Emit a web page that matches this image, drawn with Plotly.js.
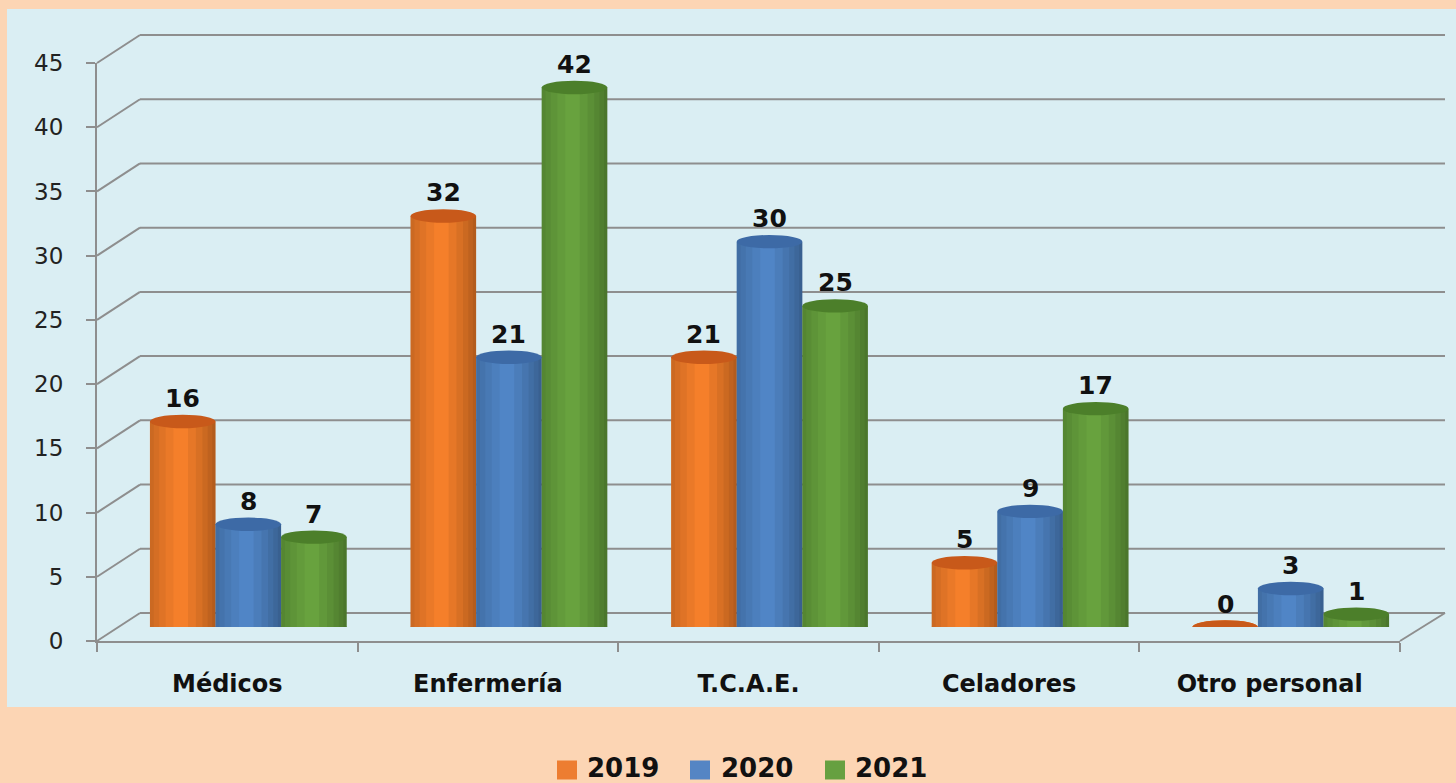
<!DOCTYPE html>
<html>
<head>
<meta charset="utf-8">
<script src="https://cdn.plot.ly/plotly-3.0.1.min.js"></script>
<style>html,body{margin:0;padding:0;background:#FCD5B4;}#chart{width:1456px;height:783px;}</style>
</head>
<body>
<div id="chart"></div>
<script>
// ---- data ----
const categories = ['Médicos', 'Enfermería', 'T.C.A.E.', 'Celadores', 'Otro personal'];
const seriesNames = ['2019', '2020', '2021'];
const values2019 = [16, 32, 21, 5, 0];
const values2020 = [8, 21, 30, 9, 3];
const values2021 = [7, 42, 25, 17, 1];
const yTicks = [0, 5, 10, 15, 20, 25, 30, 35, 40, 45];

// ---- styling / geometry ----
const W = 1456, H = 783;
const yMax = 45;
const front = {x0: 97, x1: 1400, yBase: 641, yTop: 63};
const backShift = {dx: 43, dy: -28, xEnd: 1445};
const barShift = {dx: 21, dy: -14};
const bargap = 0.245;
const colors = ['#F57F2A', '#5085C6', '#68A23E'];
const topColors = ['#C8591A', '#3D6AA6', '#4C7F2A'];
const legendColors = ['#ED7D31', '#5585C4', '#66A040'];
const legendPos = [{sq: 557, tx: 586}, {sq: 690, tx: 720}, {sq: 825, tx: 854}];
const legendY = 768, legendSq = 19;
const gridColor = '#8E8E8E';
const fontFam = '"DejaVu Sans", Verdana, sans-serif';

const px = x => x / W;
const py = y => 1 - y / H;

const allValues = [values2019, values2020, values2021];

const traces = allValues.map((vals, k) => ({
  type: 'bar',
  name: seriesNames[k],
  x: categories,
  y: vals,
  xaxis: 'x2',
  yaxis: 'y2',
  marker: {color: colors[k], line: {width: 0}},
  showlegend: false,
  hoverinfo: 'x+y+name'
}));
// dummy trace to register the front axes
traces.push({type: 'scatter', x: categories, y: categories.map(() => null), xaxis: 'x', yaxis: 'y',
  showlegend: false, hoverinfo: 'skip', mode: 'markers'});

const shapes = [];
const annotations = [];
// light blue plot panel
shapes.push({type: 'rect', xref: 'paper', yref: 'paper', x0: px(7), x1: 1, y0: py(707), y1: py(9),
  fillcolor: '#DAEEF3', line: {width: 0}, layer: 'below'});
// 3D gridlines derived from tick values
const pxPerUnit = (front.yBase - front.yTop) / yMax;
yTicks.forEach(t => {
  const yf = front.yBase - t * pxPerUnit;
  const yb = yf + backShift.dy;
  shapes.push({type: 'line', xref: 'paper', yref: 'paper', x0: px(front.x0), y0: py(yf),
    x1: px(front.x0 + backShift.dx), y1: py(yb), line: {color: gridColor, width: 2}, layer: 'below'});
  shapes.push({type: 'line', xref: 'paper', yref: 'paper', x0: px(front.x0 + backShift.dx), y0: py(yb),
    x1: px(backShift.xEnd), y1: py(yb), line: {color: gridColor, width: 2}, layer: 'below'});
  if (t === 0) {
    shapes.push({type: 'line', xref: 'paper', yref: 'paper', x0: px(front.x1), y0: py(yf),
      x1: px(backShift.xEnd), y1: py(yb), line: {color: gridColor, width: 2}, layer: 'below'});
  }
});

// cylinder decorations derived from data
const bw = (1 - bargap) / 3;
const ellH = 0.52;
allValues.forEach((vals, k) => {
  vals.forEach((v, i) => {
    const c = i + (k - 1) * bw;
    const l = c - bw / 2, r = c + bw / 2;
    // bottom rounded edge
    shapes.push({type: 'circle', xref: 'x2', yref: 'y2', x0: l, x1: r, y0: -ellH, y1: ellH,
      fillcolor: colors[k], line: {width: 0}, layer: 'below'});
    if (v > 0) {
      // shading strips (left and right edges)
      [0.36, 0.24, 0.14, 0.06].forEach(f => {
        shapes.push({type: 'rect', xref: 'x2', yref: 'y2', x0: l, x1: l + bw * f, y0: 0, y1: v,
          fillcolor: 'rgba(0,0,0,0.045)', line: {width: 0}, layer: 'above'});
      });
      [0.42, 0.3, 0.2, 0.12, 0.05].forEach(f => {
        shapes.push({type: 'rect', xref: 'x2', yref: 'y2', x0: r - bw * f, x1: r, y0: 0, y1: v,
          fillcolor: 'rgba(0,0,0,0.06)', line: {width: 0}, layer: 'above'});
      });
    }
    // top ellipse
    shapes.push({type: 'circle', xref: 'x2', yref: 'y2', x0: l, x1: r, y0: v - ellH, y1: v + ellH,
      fillcolor: topColors[k], line: {width: 0}, layer: 'above'});
    annotations.push({xref: 'x2', yref: 'y2', x: c, y: v, text: String(v), showarrow: false,
      yanchor: 'middle', yshift: 23, font: {family: fontFam, size: 25, color: '#111', weight: 'bold'}});
  });
});

// legend (swatches + real text)
seriesNames.forEach((name, k) => {
  shapes.push({type: 'rect', xref: 'paper', yref: 'paper',
    x0: px(legendPos[k].sq), x1: px(legendPos[k].sq + legendSq + 1),
    y0: py(legendY + 2 + legendSq / 2), y1: py(legendY + 2 - legendSq / 2),
    fillcolor: legendColors[k], line: {width: 0}});
  annotations.push({xref: 'paper', yref: 'paper', x: px(legendPos[k].tx), y: py(legendY),
    xanchor: 'left', yanchor: 'middle', text: name, showarrow: false, borderpad: 0,
    font: {family: fontFam, size: 26, color: '#111', weight: 'bold'}});
});

const layout = {
  width: W, height: H,
  margin: {l: 0, r: 0, t: 0, b: 0, autoexpand: false},
  paper_bgcolor: '#FCD5B4',
  plot_bgcolor: 'rgba(0,0,0,0)',
  barmode: 'group',
  bargap: bargap,
  bargroupgap: 0,
  showlegend: false,
  xaxis: {domain: [px(front.x0), px(front.x1)], anchor: 'y', type: 'category',
    categoryarray: categories, range: [-0.5, categories.length - 0.5],
    showline: true, linecolor: gridColor, linewidth: 2, ticks: 'outside', tickson: 'boundaries',
    ticklen: 9, tickwidth: 2, tickcolor: gridColor, showgrid: false, zeroline: false,
    tickfont: {family: fontFam, size: 24, color: '#111', weight: 'bold'}, ticklabelstandoff: 20,
    fixedrange: true},
  yaxis: {domain: [py(front.yBase), py(front.yTop)], anchor: 'x', range: [0, yMax],
    tickvals: yTicks, ticktext: yTicks.map(String),
    showline: true, linecolor: gridColor, linewidth: 2, ticks: 'outside', ticklen: 9, tickwidth: 2,
    tickcolor: gridColor, showgrid: false, zeroline: false,
    tickfont: {family: fontFam, size: 23, color: '#222'}, ticklabelstandoff: 18, fixedrange: true},
  xaxis2: {domain: [px(front.x0 + barShift.dx), px(front.x1 + barShift.dx)], anchor: 'y2',
    type: 'category', categoryarray: categories, range: [-0.5, categories.length - 0.5],
    visible: false, fixedrange: true},
  yaxis2: {domain: [py(front.yBase + barShift.dy), py(front.yTop + barShift.dy)], anchor: 'x2',
    range: [0, yMax], visible: false, fixedrange: true},
  shapes: shapes,
  annotations: annotations
};

Plotly.newPlot('chart', traces, layout, {displayModeBar: false, staticPlot: true});
</script>
</body>
</html>
